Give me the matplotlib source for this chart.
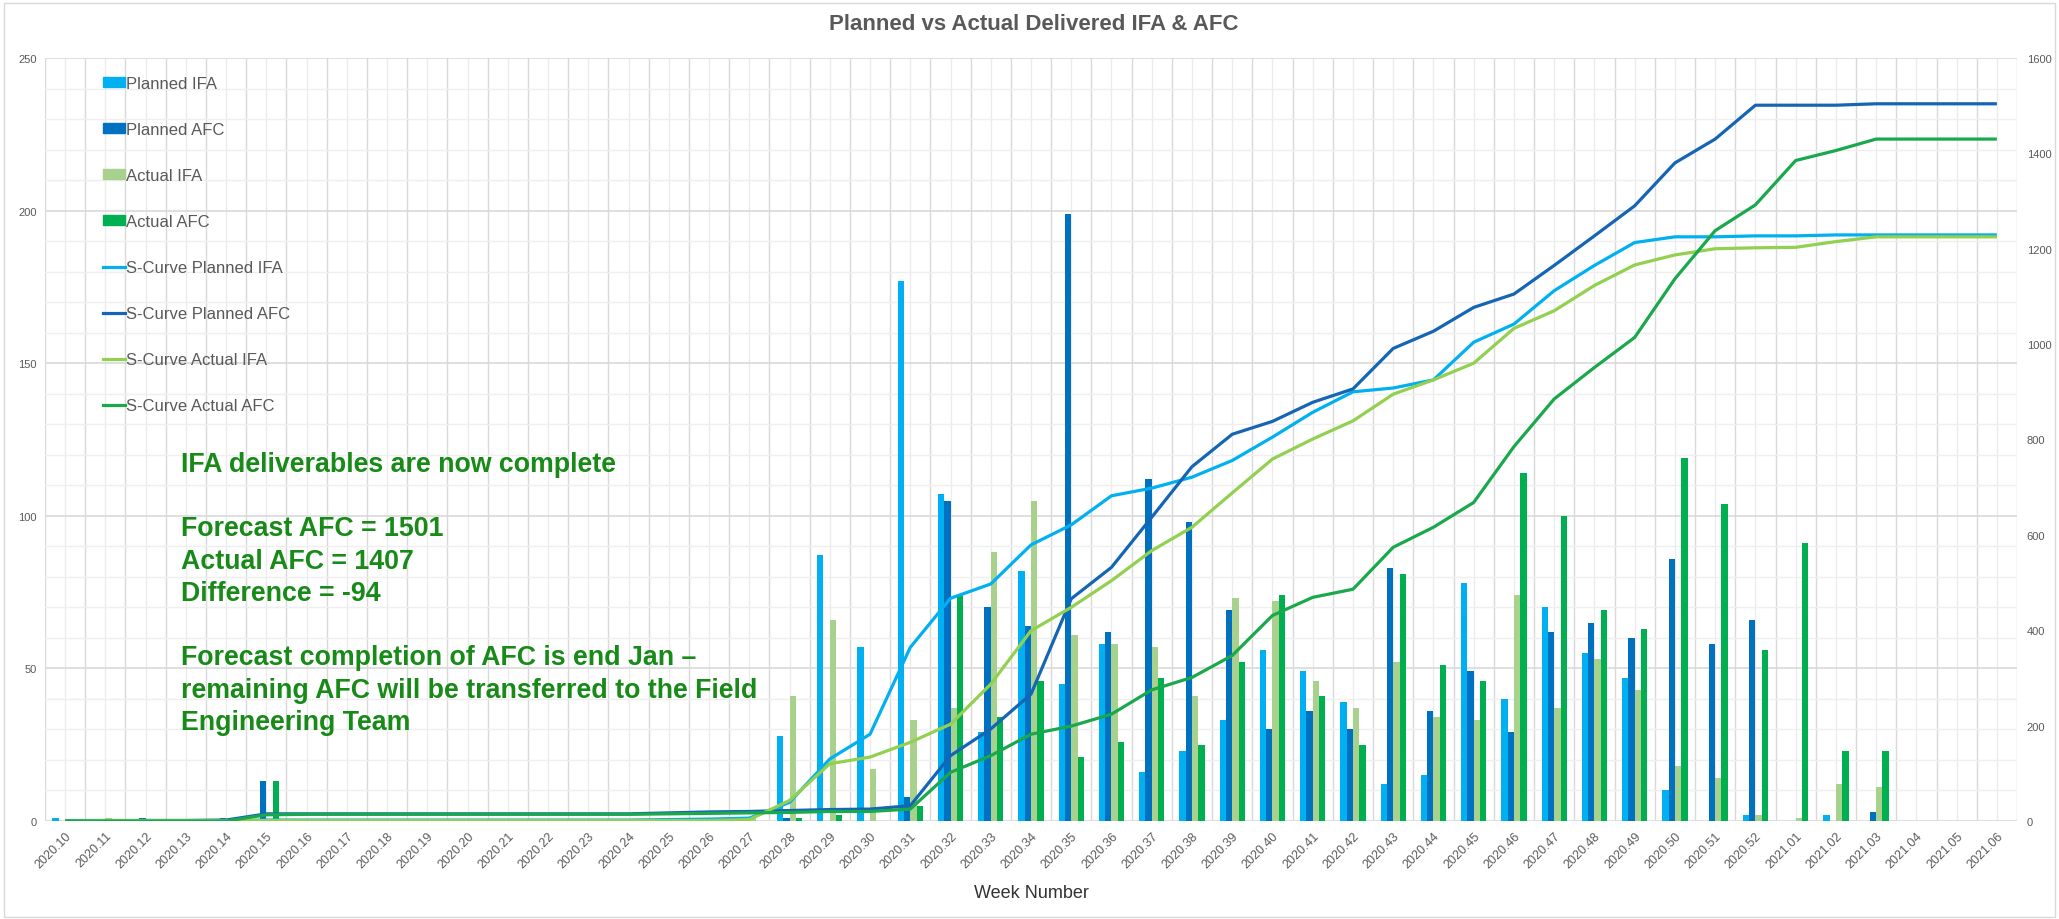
import numpy as np
import matplotlib
matplotlib.use("Agg")
import matplotlib.pyplot as plt
from matplotlib.patches import Patch, Rectangle
from matplotlib.lines import Line2D

plt.rcParams["font.family"] = ["Liberation Sans", "DejaVu Sans"]

weeks = [f"2020.{w}" for w in range(10, 53)] + [f"2021.{w:02d}" for w in range(1, 7)]

# weekly deliverables (left axis)
planned_ifa = [1, 0, 0, 0, 0, 0, 0, 0, 0, 0,
               0, 0, 0, 0, 0, 0, 0, 1, 28, 87,
               57, 177, 107, 29, 82, 45, 58, 16, 23, 33,
               56, 49, 39, 12, 15, 78, 40, 70, 55, 47,
               10, 0, 2,
               0, 2, 0, 0, 0, 0]
planned_afc = [0, 0, 1, 0, 1, 13, 0, 0, 0, 0,
               0, 0, 0, 0, 0, 1, 1, 0, 1, 0,
               0, 8, 105, 70, 64, 199, 62, 112, 98, 69,
               30, 36, 30, 83, 36, 49, 29, 62, 65, 60,
               86, 58, 66,
               0, 0, 3, 0, 0, 0]
actual_ifa = [0, 1, 0, 0, 0, 0, 0, 0, 0, 0,
              0, 0, 0, 0, 0, 0, 0, 1, 41, 66,
              17, 33, 37, 88, 105, 61, 58, 57, 41, 73,
              72, 46, 37, 52, 34, 33, 74, 37, 53, 43,
              18, 14, 2,
              1, 12, 11, 0, 0, 0]
actual_afc = [0, 0, 0, 0, 0, 13, 0, 0, 0, 0,
              0, 0, 0, 0, 0, 1, 1, 0, 1, 2,
              0, 5, 74, 34, 46, 21, 26, 47, 25, 52,
              74, 41, 25, 81, 51, 46, 114, 100, 69, 63,
              119, 104, 56,
              91, 23, 23, 0, 0, 0]

# cumulative S-curves (right axis)
s_planned_ifa = [1, 1, 1, 1, 1, 2, 2, 2, 2, 2,
                 2, 2, 2, 2, 2, 3, 4, 6, 39, 130,
                 182, 364, 467, 497, 579, 621, 682, 698, 721, 756,
                 805, 857, 900, 908, 925, 1004, 1042, 1112, 1165, 1213,
                 1225, 1225, 1227,
                 1227, 1229, 1229, 1229, 1229, 1229]
s_planned_afc = [0, 0, 1, 1, 2, 15, 15, 15, 15, 15,
                 15, 15, 15, 15, 15, 17, 19, 20, 22, 24,
                 25, 32, 137, 193, 266, 466, 532, 637, 743, 811,
                 838, 878, 906, 991, 1027, 1077, 1105, 1165, 1227, 1290,
                 1380, 1430, 1501,
                 1501, 1501, 1504, 1504, 1504, 1504]
s_actual_ifa = [0, 1, 1, 1, 1, 1, 1, 1, 1, 1,
                1, 1, 1, 1, 1, 1, 1, 3, 43, 120,
                134, 165, 203, 287, 399, 448, 504, 567, 616, 688,
                759, 801, 839, 895, 925, 960, 1033, 1070, 1123, 1166,
                1187, 1200, 1202,
                1203, 1215, 1225, 1225, 1225, 1225]
s_actual_afc = [0, 0, 0, 0, 0, 13, 14, 14, 14, 14,
                14, 14, 14, 14, 14, 15, 16, 17, 18, 20,
                20, 25, 102, 137, 182, 199, 224, 275, 301, 347,
                431, 469, 486, 574, 616, 668, 785, 885, 951, 1014,
                1137, 1238, 1292,
                1385, 1406, 1430, 1430, 1430, 1430]

notes = ["IFA deliverables are now complete", "",
         "Forecast AFC = 1501", "Actual AFC = 1407", "Difference = -94", "",
         "Forecast completion of AFC is end Jan \u2013",
         "remaining AFC will be transferred to the Field",
         "Engineering Team"]

C_PIFA, C_PAFC, C_AIFA, C_AAFC = "#00b0f0", "#0070c0", "#a9d18e", "#00b050"
L_PIFA, L_PAFC, L_AIFA, L_AAFC = "#00b0f0", "#1565b5", "#92d050", "#1aa84c"
GREY = "#595959"

W, H = 2059, 920
fig = plt.figure(figsize=(W / 100, H / 100), dpi=100)
fig.patches.append(Rectangle((0.002, 0.002), 0.996, 0.994, transform=fig.transFigure,
                             fill=False, edgecolor="#d9d9d9", lw=1))
ax = fig.add_axes([45 / W, 1 - 822 / H, (2017 - 45) / W, (822 - 59) / H])
ax2 = ax.twinx()

x = np.arange(len(weeks))
bw = 0.157
for k, (vals, col) in enumerate([(planned_ifa, C_PIFA), (planned_afc, C_PAFC),
                                 (actual_ifa, C_AIFA), (actual_afc, C_AAFC)]):
    ax.bar(x + (k - 1.5) * bw, vals, bw, color=col, lw=0, zorder=2)

for vals, col in [(s_planned_ifa, L_PIFA), (s_planned_afc, L_PAFC),
                  (s_actual_ifa, L_AIFA), (s_actual_afc, L_AAFC)]:
    ax2.plot(x, vals, color=col, lw=2.3, solid_capstyle="butt")

# axes, grid
ax.set_xlim(-0.5, len(weeks) - 0.5)
ax.set_ylim(0, 250)
ax2.set_ylim(0, 1600)
ax.set_xticks(x)
ax.set_xticklabels(weeks, rotation=45, ha="right", rotation_mode="anchor",
                   fontsize=9, color=GREY)
ax.set_xticks(np.arange(-0.5, len(weeks), 1.0), minor=True)
ax.set_yticks(np.arange(0, 251, 50))
ax.set_yticks(np.arange(0, 251, 10), minor=True)
ax2.set_yticks(np.arange(0, 1601, 200))
ax.grid(True, which="minor", color="#d9d9d9", lw=1.0, axis="x")
ax.grid(True, which="major", color="#ececec", lw=1.0, axis="x")
ax.grid(True, which="major", color="#d9d9d9", lw=1.2, axis="y")
ax.grid(True, which="minor", color="#efefef", lw=1.0, axis="y")
ax.set_axisbelow(True)
ax.tick_params(which="both", length=0)
ax.tick_params(axis="x", pad=6)
ax.tick_params(axis="y", labelsize=8, labelcolor=GREY, pad=6)
ax2.tick_params(length=0, labelsize=8, labelcolor=GREY, pad=7)
for a in (ax, ax2):
    for s in a.spines.values():
        s.set_visible(False)
ax.set_xlabel("Week Number", fontsize=13, color="#333333", labelpad=10)

fig.text(0.502, 1 - 25 / H, "Planned vs Actual Delivered IFA & AFC", ha="center",
         va="center", fontsize=16, fontweight="bold", color=GREY)

handles = [Patch(color=C_PIFA), Patch(color=C_PAFC), Patch(color=C_AIFA), Patch(color=C_AAFC),
           Line2D([], [], color=L_PIFA, lw=2.3), Line2D([], [], color=L_PAFC, lw=2.3),
           Line2D([], [], color=L_AIFA, lw=2.3), Line2D([], [], color=L_AAFC, lw=2.3)]
labels = ["Planned IFA", "Planned AFC", "Actual IFA", "Actual AFC",
          "S-Curve Planned IFA", "S-Curve Planned AFC", "S-Curve Actual IFA",
          "S-Curve Actual AFC"]
leg = fig.legend(handles, labels, loc="upper left", bbox_to_anchor=(103 / W, 1 - 77 / H),
                 frameon=False, fontsize=12, handlelength=1.3, handleheight=0.5,
                 handletextpad=0.1, labelspacing=1.86, borderpad=0, borderaxespad=0)
for t in leg.get_texts():
    t.set_color(GREY)

for k, line in enumerate(notes):
    fig.text(181 / W, 1 - (465 + 32.25 * k) / H, line, ha="left", va="center",
             fontsize=19.3, fontweight="bold", color="#178a17")

fig.savefig("out.png", dpi=100)
